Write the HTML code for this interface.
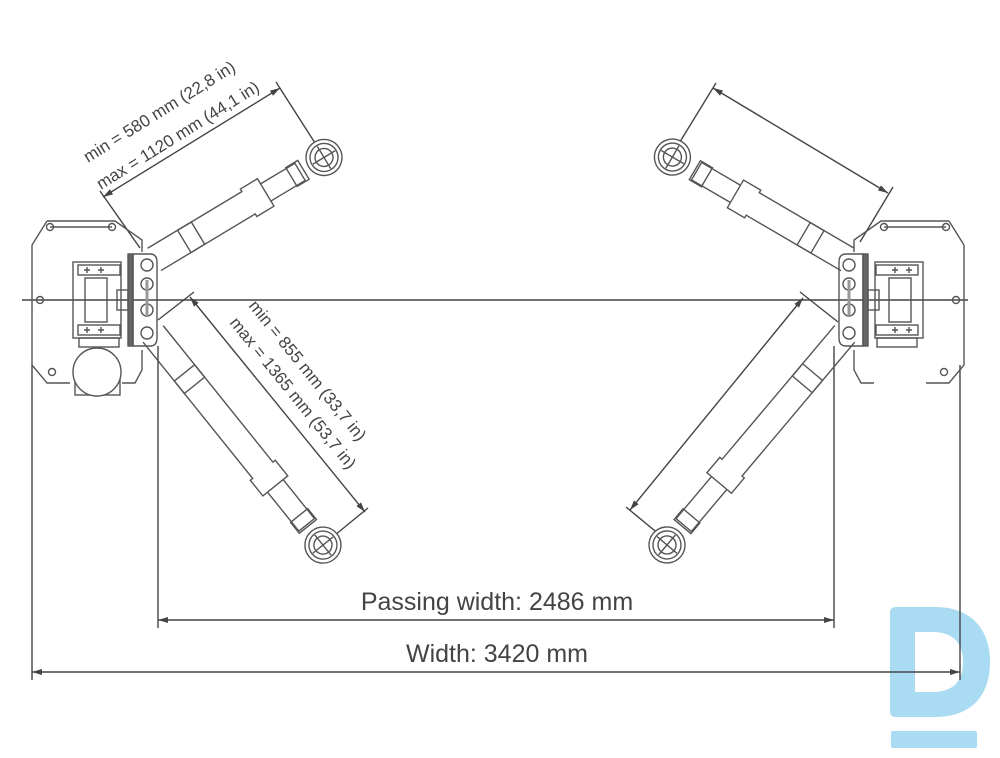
<!DOCTYPE html>
<html><head><meta charset="utf-8"><style>
html,body{margin:0;padding:0;background:#fff;}
svg{display:block;}
text{font-family:"Liberation Sans",sans-serif;fill:#444;}
</style></head><body>
<svg width="1000" height="758" viewBox="0 0 1000 758" xmlns="http://www.w3.org/2000/svg">
<defs>
<marker id="ar" viewBox="0 0 10 6" refX="10" refY="3" markerWidth="10" markerHeight="6" orient="auto-start-reverse" markerUnits="userSpaceOnUse"><path d="M0,0 L10,3 L0,6 z" fill="#444"/></marker>
<g id="post" fill="none" stroke="#555" stroke-width="1.4">
  <path d="M47,221 L115,221 L142,240 L142,252 M32,245 L47,221 M32,245 L32,365 L47,383 L70,383 M122,383 L135,383 L142,370 L142,350"/>
  <line x1="50" y1="227" x2="112" y2="227"/>
  <circle cx="50" cy="227" r="3.5"/><circle cx="112" cy="227" r="3.5"/>
  <circle cx="40" cy="300" r="3.5"/><circle cx="52" cy="372" r="3.5"/>
  <rect x="73" y="262" width="48" height="76"/>
  <rect x="78" y="265" width="42" height="10"/><rect x="78" y="325" width="42" height="10"/>
  <rect x="85" y="278" width="22" height="44"/>
  <rect x="79" y="338" width="40" height="9"/>
  <path d="M84,270h6M87,267v6M98,270h6M101,267v6M84,330h6M87,327v6M98,330h6M101,327v6"/>
  <rect x="117" y="290" width="11" height="20"/>
  <rect x="128" y="254" width="5" height="92" fill="#666"/>
  <path d="M133,254 L150,254 Q157,254 157,262 L157,338 Q157,346 150,346 L133,346 Z"/>
  <circle cx="147" cy="265" r="6"/><circle cx="147" cy="284" r="6"/><circle cx="147" cy="310" r="6"/><circle cx="147" cy="333" r="6"/>
  <line x1="147" y1="280" x2="147" y2="316" stroke="#999" stroke-width="3"/>
</g>
</defs>
<!-- logo -->
<path fill-rule="evenodd" fill="#a9dcf2" d="M896,607 L935,607 C972,607 990,630 990,662 C990,695 972,717 935,717 L896,717 Q890,717 890,711 L890,613 Q890,607 896,607 Z M915,632 L932,632 C955,632 963,645 963,662 C963,680 955,692 932,692 L915,692 Z"/>
<rect x="891" y="731" width="86" height="17" rx="2" fill="#a9dcf2"/>

<g stroke="#444" stroke-width="1.4" fill="none">
<line x1="22" y1="300" x2="968" y2="300"/>
<line x1="32" y1="365" x2="32" y2="680"/>
<line x1="960" y1="365" x2="960" y2="680"/>
<line x1="158" y1="346" x2="158" y2="628"/>
<line x1="834" y1="346" x2="834" y2="628"/>
<line x1="158" y1="620" x2="834" y2="620" marker-start="url(#ar)" marker-end="url(#ar)"/>
<line x1="32" y1="672" x2="960" y2="672" marker-start="url(#ar)" marker-end="url(#ar)"/>
<line x1="103" y1="197" x2="280" y2="88" marker-start="url(#ar)" marker-end="url(#ar)"/>
<line x1="100" y1="191" x2="140" y2="248"/><line x1="276" y1="82" x2="315" y2="143"/>
<line x1="713" y1="88" x2="888" y2="193" marker-start="url(#ar)" marker-end="url(#ar)"/>
<line x1="716" y1="83" x2="678" y2="145"/><line x1="893" y1="187" x2="860" y2="242"/>
<line x1="190" y1="297" x2="365" y2="512" marker-start="url(#ar)" marker-end="url(#ar)"/>
<line x1="194" y1="292" x2="158" y2="320"/><line x1="368" y1="508" x2="335" y2="535"/>
<line x1="803" y1="298" x2="630" y2="510" marker-start="url(#ar)" marker-end="url(#ar)"/>
<line x1="800" y1="292" x2="838" y2="322"/><line x1="626" y1="507" x2="660" y2="535"/>
</g>

<use href="#post"/>
<g transform="translate(996,0) scale(-1,1)"><use href="#post"/></g>
<g fill="none" stroke="#555" stroke-width="1.4">
<rect x="75" y="375" width="45" height="20"/>
<circle cx="97" cy="372" r="24" fill="#fff"/>
</g>

<g fill="none" stroke="#555" stroke-width="1.4">
<g transform="translate(150,262) rotate(-31)">
  <path d="M5,-13 L115,-13 L115,-16 L135,-16 L135,16 L115,16 L115,13 L5,13"/>
  <rect x="40" y="-13" width="16" height="26"/>
  <path d="M135,-10 L175,-10 L175,10 L135,10"/><rect x="165" y="-11" width="14" height="22"/>
  <circle cx="203" cy="0" r="18" fill="#fff"/><circle cx="203" cy="0" r="14"/><circle cx="203" cy="0" r="9"/>
  <path d="M190,0h26M203,-13v26"/>
</g>
<g transform="translate(852,262) rotate(210.3)">
  <path d="M5,-13 L115,-13 L115,-16 L135,-16 L135,16 L115,16 L115,13 L5,13"/>
  <rect x="40" y="-13" width="16" height="26"/>
  <path d="M135,-10 L180,-10 L180,10 L135,10"/><rect x="168" y="-11" width="14" height="22"/>
  <circle cx="208" cy="0" r="18" fill="#fff"/><circle cx="208" cy="0" r="14"/><circle cx="208" cy="0" r="9"/>
  <path d="M195,0h26M208,-13v26"/>
</g>
<g transform="translate(150,330) rotate(51.2)">
  <path d="M5,-13 L180,-13 L180,-16 L200,-16 L200,16 L180,16 L180,13 L5,13"/>
  <rect x="55" y="-13" width="16" height="26"/>
  <path d="M200,-10 L250,-10 L250,10 L200,10"/><rect x="238" y="-11" width="14" height="22"/>
  <circle cx="276" cy="0" r="18" fill="#fff"/><circle cx="276" cy="0" r="14"/><circle cx="276" cy="0" r="9"/>
  <path d="M263,0h26M276,-13v26"/>
</g>
<g transform="translate(848,330) rotate(130.1)">
  <path d="M5,-13 L180,-13 L180,-16 L200,-16 L200,16 L180,16 L180,13 L5,13"/>
  <rect x="55" y="-13" width="16" height="26"/>
  <path d="M200,-10 L255,-10 L255,10 L200,10"/><rect x="243" y="-11" width="14" height="22"/>
  <circle cx="281" cy="0" r="18" fill="#fff"/><circle cx="281" cy="0" r="14"/><circle cx="281" cy="0" r="9"/>
  <path d="M268,0h26M281,-13v26"/>
</g>
</g>

<text x="497" y="610" font-size="25" text-anchor="middle">Passing width: 2486 mm</text>
<text x="497" y="662" font-size="25" text-anchor="middle">Width: 3420 mm</text>
<text transform="translate(88,163) rotate(-32)" font-size="17">min = 580 mm (22,8 in)</text>
<text transform="translate(101,190) rotate(-32)" font-size="17">max = 1120 mm (44,1 in)</text>
<text transform="translate(248,306) rotate(51)" font-size="17">min = 855 mm (33,7 in)</text>
<text transform="translate(229,323) rotate(51)" font-size="17">max = 1365 mm (53,7 in)</text>
</svg>
</body></html>
